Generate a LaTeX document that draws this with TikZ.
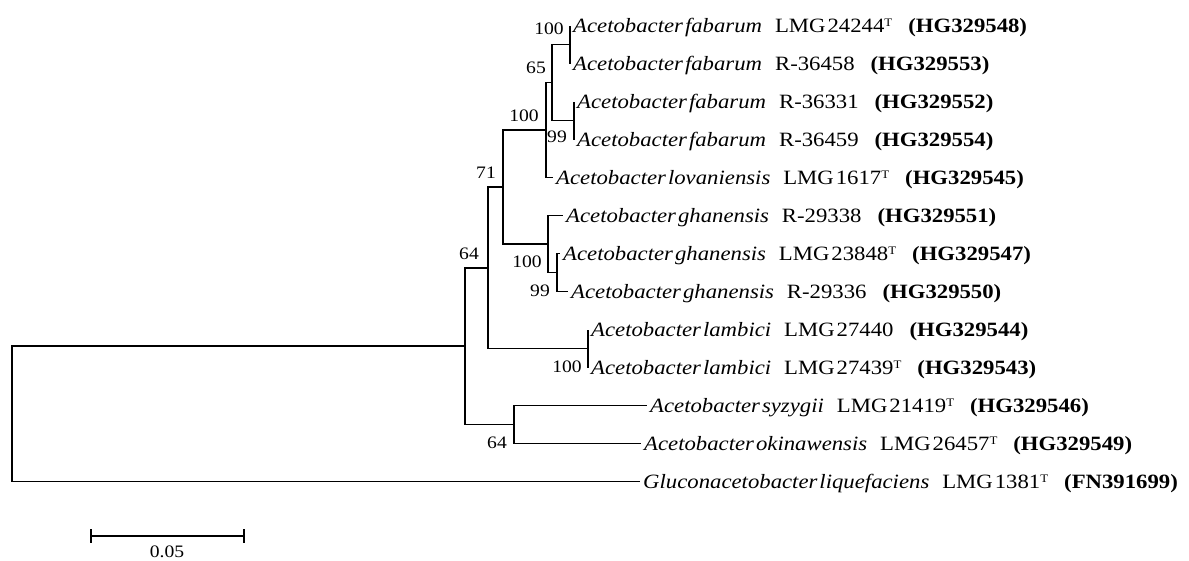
\documentclass[tikz,border=0pt]{standalone}
\usepackage{fontspec}
\setmainfont{Liberation Serif}[FakeStretch=1.12]
\newcommand{\taxfont}{\fontsize{20.3}{22}\selectfont}
\newcommand{\bootfont}{\fontsize{17.5}{19}\selectfont}
\newcommand{\lab}[4]{\textit{#1\hspace{2pt}#2}\hspace{13pt}#3\hspace{16pt}\textbf{#4}}
\newcommand{\lmg}[1]{LMG\hspace{2pt}#1}
\newcommand{\typ}{\raisebox{6pt}{\fontsize{11.5}{12}\selectfont T}}
\begin{document}
\begin{tikzpicture}[x=1pt,y=-1pt,
  br/.style={line width=1.5pt},
  taxon/.style={anchor=base west, inner sep=0pt, xshift=3pt, yshift=-6.5pt, font=\taxfont},
  boot/.style={inner sep=0pt, font=\bootfont}]
\useasboundingbox (0,0) rectangle (1189,560);
% leaves
\coordinate (L1) at (570,25.5);
\coordinate (L2) at (570,63.5);
\coordinate (L3) at (574,101.5);
\coordinate (L4) at (574,139.5);
\coordinate (L5) at (553,177.5);
\coordinate (L6) at (563,215.5);
\coordinate (L7) at (560,253.5);
\coordinate (L8) at (568,291.5);
\coordinate (L9) at (588,329.5);
\coordinate (L10) at (588,367.5);
\coordinate (L11) at (647,405.5);
\coordinate (L12) at (641,443.5);
\coordinate (L13) at (640,481.5);
% internal nodes
\coordinate (A) at (570,44.5);
\coordinate (B) at (574,120.5);
\coordinate (C) at (552,82.5);
\coordinate (D) at (546,130);
\coordinate (E) at (557,272.5);
\coordinate (F) at (548,244);
\coordinate (G) at (503,187);
\coordinate (H) at (588,348.5);
\coordinate (I) at (488,267.75);
\coordinate (J) at (514,424.5);
\coordinate (K) at (465,346);
\coordinate (R) at (12,413.75);
% branches
\draw[br] (A) |- (L1); \draw[br] (A) |- (L2);
\draw[br] (B) |- (L3); \draw[br] (B) |- (L4);
\draw[br] (C) |- (A);  \draw[br] (C) |- (B);
\draw[br] (D) |- (C);  \draw[br] (D) |- (L5);
\draw[br] (E) |- (L7); \draw[br] (E) |- (L8);
\draw[br] (F) |- (L6); \draw[br] (F) |- (E);
\draw[br] (G) |- (D);  \draw[br] (G) |- (F);
\draw[br] (H) |- (L9); \draw[br] (H) |- (L10);
\draw[br] (I) |- (G);  \draw[br] (I) |- (H);
\draw[br] (J) |- (L11); \draw[br] (J) |- (L12);
\draw[br] (K) |- (I);  \draw[br] (K) |- (J);
\draw[br] (R) |- (K);  \draw[br] (R) |- (L13);
% taxa
\node[taxon] (t1) at (L1) {\lab{Acetobacter}{fabarum}{\lmg{24244}\typ}{(HG329548)}};
\node[taxon] (t2) at (L2) {\lab{Acetobacter}{fabarum}{R-36458}{(HG329553)}};
\node[taxon] (t3) at (L3) {\lab{Acetobacter}{fabarum}{R-36331}{(HG329552)}};
\node[taxon] (t4) at (L4) {\lab{Acetobacter}{fabarum}{R-36459}{(HG329554)}};
\node[taxon] (t5) at (L5) {\lab{Acetobacter}{lovaniensis}{\lmg{1617}\typ}{(HG329545)}};
\node[taxon] (t6) at (L6) {\lab{Acetobacter}{ghanensis}{R-29338}{(HG329551)}};
\node[taxon] (t7) at (L7) {\lab{Acetobacter}{ghanensis}{\lmg{23848}\typ}{(HG329547)}};
\node[taxon] (t8) at (L8) {\lab{Acetobacter}{ghanensis}{R-29336}{(HG329550)}};
\node[taxon] (t9) at (L9) {\lab{Acetobacter}{lambici}{\lmg{27440}}{(HG329544)}};
\node[taxon] (t10) at (L10) {\lab{Acetobacter}{lambici}{\lmg{27439}\typ}{(HG329543)}};
\node[taxon] (t11) at (L11) {\lab{Acetobacter}{syzygii}{\lmg{21419}\typ}{(HG329546)}};
\node[taxon] (t12) at (L12) {\lab{Acetobacter}{okinawensis}{\lmg{26457}\typ}{(HG329549)}};
\node[taxon] (t13) at (L13) {\lab{Gluconacetobacter}{liquefaciens}{\lmg{1381}\typ}{(FN391699)}};
% bootstrap values
\node[boot] (bA) at (549,29) {100};
\node[boot] (bC) at (536,68) {65};
\node[boot] (bD) at (524,116) {100};
\node[boot] (bB) at (557,137) {99};
\node[boot] (bG) at (486,173) {71};
\node[boot] (bI) at (469,254) {64};
\node[boot] (bF) at (527,262) {100};
\node[boot] (bE) at (540,291) {99};
\node[boot] (bH) at (567,367) {100};
\node[boot] (bJ) at (497,443) {64};
% scale bar
\coordinate (s1) at (91,536);
\coordinate (s2) at (244,536);
\draw[br] (s1) -- (s2);
\draw[br] ([yshift=7pt]s1) -- ([yshift=-7pt]s1);
\draw[br] ([yshift=7pt]s2) -- ([yshift=-7pt]s2);
\node[boot] (sl) at (167,552) {0.05};
\end{tikzpicture}
\end{document}
